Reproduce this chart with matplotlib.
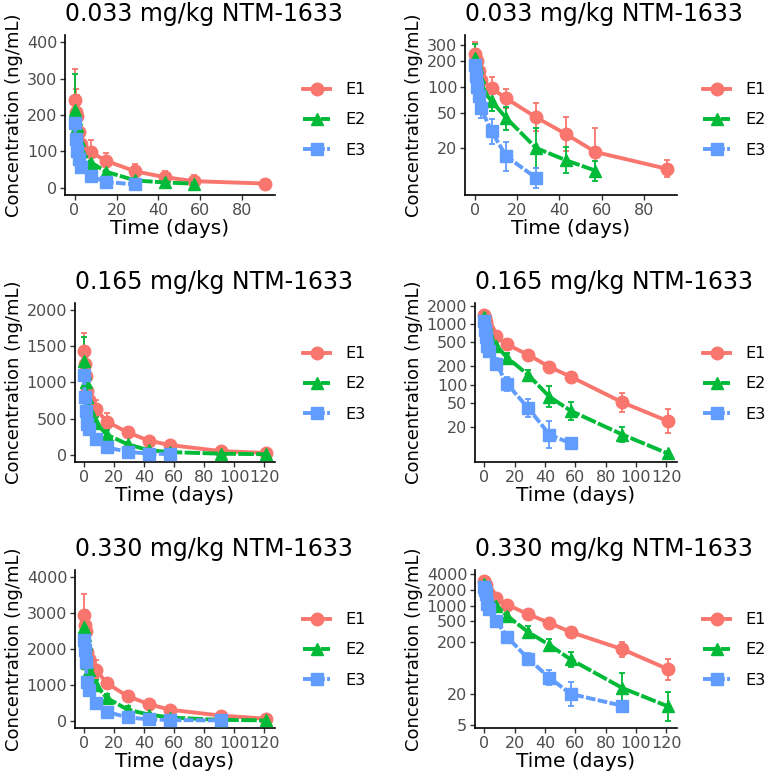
import matplotlib
matplotlib.use('Agg')
import matplotlib.pyplot as plt
import numpy as np

########################################################################
# data: mean concentration (ng/mL) and multiplicative spread factor

times = [0, 0.5, 1, 2, 3, 8, 15, 29, 43, 57, 91, 121]
groups = ['E1', 'E2', 'E3']

# 0.033 mg/kg
conc_033_e1 = [242, 208, 197, 153, 120, 97, 74, 45, 29, 18, 11.5]
conc_033_e2 = [215, 190, 170, 130, 100, 69, 44, 20, 14.5, 11]
conc_033_e3 = [178, 135, 100, 78, 57, 31, 16, 9.1]
gsd_033_e1 = [1.35, 1.3, 1.3, 1.2, 1.15, 1.35, 1.3, 1.45, 1.55, 1.9, 1.25]
gsd_033_e2 = [1.45, 1.3, 1.25, 1.2, 1.2, 1.3, 1.35, 1.7, 1.4, 1.3]
gsd_033_e3 = [1.3, 1.3, 1.25, 1.3, 1.3, 1.4, 1.45, 1.3]

# 0.165 mg/kg
conc_165_e1 = [1430, 1250, 1090, 880, 760, 630, 460, 310, 196, 135, 51, 25]
conc_165_e2 = [1300, 1130, 1000, 800, 630, 440, 280, 145, 63, 37, 15, 7.3]
conc_165_e3 = [1100, 800, 600, 430, 360, 220, 103, 41, 15, 10.7]
gsd_165_e1 = [1.18, 1.15, 1.15, 1.15, 1.15, 1.2, 1.25, 1.15, 1.2, 1.15, 1.45, 1.6]
gsd_165_e2 = [1.25, 1.2, 1.2, 1.2, 1.2, 1.2, 1.2, 1.2, 1.5, 1.4, 1.35, 1.05]
gsd_165_e3 = [1.2, 1.2, 1.2, 1.2, 1.2, 1.25, 1.3, 1.4, 1.7, 1.1]

# 0.330 mg/kg
conc_330_e1 = [2950, 2680, 2490, 1920, 1710, 1420, 1050, 685, 465, 310, 145, 60]
conc_330_e2 = [2600, 2400, 2150, 1600, 1420, 1000, 640, 310, 175, 92, 26, 11.5]
conc_330_e3 = [2250, 1980, 1650, 1080, 870, 510, 252, 95, 41, 20, 11.8]
gsd_330_e1 = [1.2, 1.15, 1.1, 1.1, 1.2, 1.2, 1.1, 1.15, 1.15, 1.1, 1.4, 1.6]
gsd_330_e2 = [1.15, 1.1, 1.1, 1.1, 1.1, 1.15, 1.15, 1.3, 1.3, 1.4, 1.9, 1.9]
gsd_330_e3 = [1.15, 1.15, 1.1, 1.1, 1.1, 1.15, 1.1, 1.3, 1.4, 1.7, 1.1]

titles = ['0.033 mg/kg NTM-1633', '0.165 mg/kg NTM-1633', '0.330 mg/kg NTM-1633']
lin_max = [400, 2000, 4000]
lin_ticks = [[0, 100, 200, 300, 400],
             [0, 500, 1000, 1500, 2000],
             [0, 1000, 2000, 3000, 4000]]
log_ticks = [[20, 50, 100, 200, 300],
             [20, 50, 100, 200, 500, 1000, 2000],
             [5, 20, 200, 500, 1000, 2000, 4000]]
x_ticks = [[0, 20, 40, 60, 80],
           [0, 20, 40, 60, 80, 100, 120],
           [0, 20, 40, 60, 80, 100, 120]]

########################################################################

colors = ['#F8766D', '#00BA38', '#619CFF']
markers = ['o', '^', 's']
dashes = [None, (4.0, 0.6), (2.5, 0.6)]

doses = [
    ([conc_033_e1, conc_033_e2, conc_033_e3], [gsd_033_e1, gsd_033_e2, gsd_033_e3]),
    ([conc_165_e1, conc_165_e2, conc_165_e3], [gsd_165_e1, gsd_165_e2, gsd_165_e3]),
    ([conc_330_e1, conc_330_e2, conc_330_e3], [gsd_330_e1, gsd_330_e2, gsd_330_e3]),
]

W, H = 771.0, 782.0
rows_px = [(35, 195), (303, 462), (570, 728)]
cols_px = [[(65, 275), (465, 677)], [(75, 275), (475, 677)], [(75, 275), (475, 677)]]
legend_y = [120, 384, 650]
legend_x = [303, 703]

fig = plt.figure(figsize=(W / 100, H / 100), dpi=100)


def draw_panel(ax, concs, gsds, log, r):
    for i in range(3):
        c = np.array(concs[i], dtype=float)
        g = np.array(gsds[i], dtype=float)
        t = np.array(times[:len(c)], dtype=float)
        lo = c - c / g
        hi = c * g - c
        ax.errorbar(t, c, yerr=[lo, hi], fmt='none', ecolor=colors[i],
                    elinewidth=1.3, capsize=2.4, capthick=1.3, zorder=2)
        line, = ax.plot(t, c, color=colors[i], marker=markers[i], markersize=9,
                        linewidth=2.8, label=groups[i], zorder=3)
        if dashes[i] is not None:
            line.set_dashes(dashes[i])
    if log:
        ax.set_yscale('log')
        ax.set_yticks(log_ticks[r])
        ax.set_yticklabels([str(v) for v in log_ticks[r]])
        ax.yaxis.set_minor_locator(matplotlib.ticker.NullLocator())
    else:
        m = lin_max[r]
        ax.set_ylim(-0.05 * m, 1.05 * m)
        ax.set_yticks(lin_ticks[r])
    ax.set_xticks(x_ticks[r])
    ax.margins(x=0.05, y=0.05)
    for s in ['top', 'right']:
        ax.spines[s].set_visible(False)
    for s in ['left', 'bottom']:
        ax.spines[s].set_linewidth(1.2)
    ax.tick_params(axis='both', length=3.5, width=1.0, color='#333333',
                   labelcolor='#4D4D4D', labelsize=11.5, pad=2)
    ax.set_xlabel('Time (days)', fontsize=14.5, labelpad=1)
    ax.set_ylabel('Concentration (ng/mL)', fontsize=13, labelpad=3)
    ax.set_title(titles[r], loc='left', fontsize=17, pad=10)


for r in range(3):
    top, bottom = rows_px[r]
    concs, gsds = doses[r]
    for cidx in range(2):
        left, right = cols_px[r][cidx]
        ax = fig.add_axes([left / W, 1 - bottom / H, (right - left) / W, (bottom - top) / H])
        draw_panel(ax, concs, gsds, cidx == 1, r)
        ax.legend(loc='center left', bbox_to_anchor=(legend_x[cidx] / W, 1 - legend_y[r] / H),
                  bbox_transform=fig.transFigure, frameon=False, fontsize=11.6,
                  handlelength=1.7, handletextpad=0.9, labelspacing=0.95,
                  borderpad=0, borderaxespad=0)

fig.savefig('out.png', dpi=100)
